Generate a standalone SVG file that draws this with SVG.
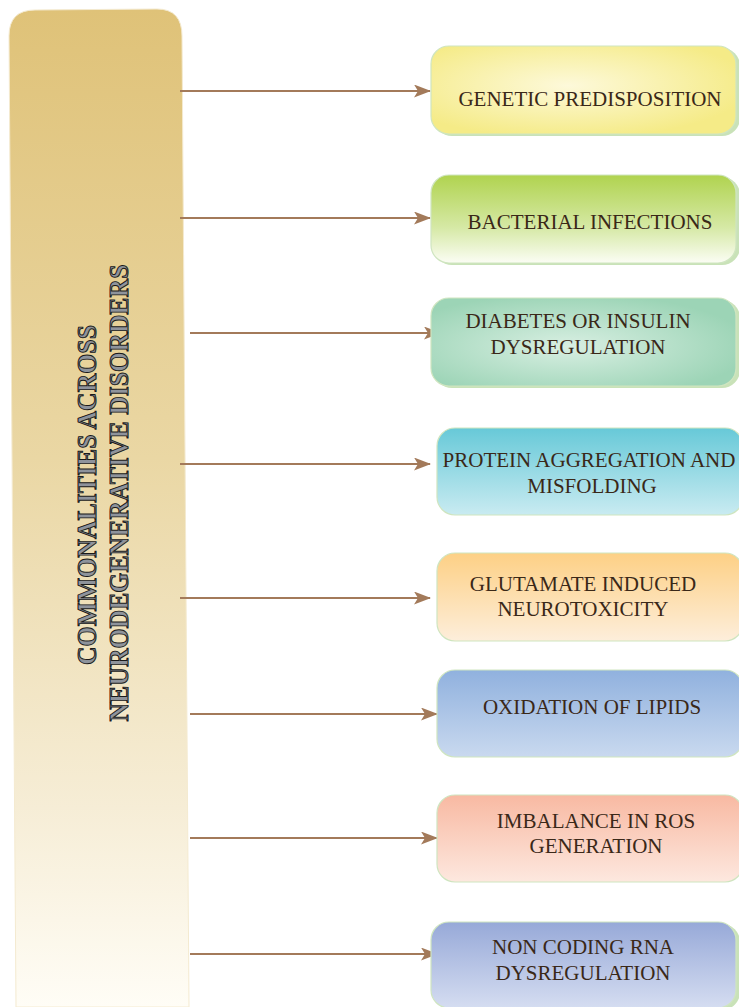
<svg xmlns="http://www.w3.org/2000/svg" width="739" height="1007" viewBox="0 0 739 1007">
  <defs>
    <linearGradient id="barGrad" x1="0" y1="0" x2="0" y2="1">
      <stop offset="0" stop-color="#dfc278"/>
      <stop offset="0.45" stop-color="#ead7a4"/>
      <stop offset="0.8" stop-color="#f6edd6"/>
      <stop offset="1" stop-color="#fffdf6"/>
    </linearGradient>
    <radialGradient id="gYellow" cx="0.45" cy="0.45" r="0.6">
      <stop offset="0" stop-color="#fdf9da"/>
      <stop offset="1" stop-color="#f5eb87"/>
    </radialGradient>
    <linearGradient id="gGreen" x1="0" y1="0" x2="0" y2="1">
      <stop offset="0" stop-color="#b0d34f"/>
      <stop offset="0.6" stop-color="#d6e9a6"/>
      <stop offset="1" stop-color="#fbfdf4"/>
    </linearGradient>
    <radialGradient id="gTeal" cx="0.45" cy="0.55" r="0.6">
      <stop offset="0" stop-color="#d8efe2"/>
      <stop offset="1" stop-color="#9cd4b6"/>
    </radialGradient>
    <linearGradient id="gCyan" x1="0" y1="0" x2="0" y2="1">
      <stop offset="0" stop-color="#67c9d8"/>
      <stop offset="1" stop-color="#c9ebf1"/>
    </linearGradient>
    <linearGradient id="gOrange" x1="0" y1="0" x2="0" y2="1">
      <stop offset="0" stop-color="#fdd085"/>
      <stop offset="1" stop-color="#fdeedb"/>
    </linearGradient>
    <linearGradient id="gBlue" x1="0" y1="0" x2="0" y2="1">
      <stop offset="0" stop-color="#90b1de"/>
      <stop offset="1" stop-color="#c9d9ef"/>
    </linearGradient>
    <linearGradient id="gSalmon" x1="0" y1="0" x2="0" y2="1">
      <stop offset="0" stop-color="#f8b9a2"/>
      <stop offset="1" stop-color="#fde8df"/>
    </linearGradient>
    <linearGradient id="gPurple" x1="0" y1="0" x2="0" y2="1">
      <stop offset="0" stop-color="#97a9d8"/>
      <stop offset="1" stop-color="#d5ddf1"/>
    </linearGradient>
    <!-- barbed arrowhead -->
    <marker id="arrow" viewBox="0 0 17 13" refX="16" refY="6.5" markerWidth="17" markerHeight="13" markerUnits="userSpaceOnUse" orient="auto">
      <path d="M0,0 L17,6.5 L0,13 L4,6.5 Z" fill="#a37a5a"/>
    </marker>
  </defs>
  <style>
    .box { stroke: #cfe5c0; stroke-width: 1.2; }
    .shadow { fill: #c9e2b8; }
    .lbl { font-family: "Liberation Serif", "Times New Roman", serif; font-size: 21px; fill: #3a2818; text-anchor: middle; }
    .title { font-family: "Liberation Serif", "Times New Roman", serif; font-size: 28px; font-weight: bold; fill: #8e939b; stroke: #1a1a1a; stroke-width: 1; text-anchor: middle; }
    .conn { stroke: #a37a5a; stroke-width: 2; fill: none; marker-end: url(#arrow); }
  </style>

  <rect width="739" height="1007" fill="#ffffff"/>

  <!-- left banner -->
  <g id="banner">
    <path d="M9,36 Q9,10 35,10 L157,9 Q182,9 182,36 L189,1007 L16,1007 Z" fill="url(#barGrad)" stroke="#f4ead0" stroke-width="1"/>
    <text class="title" transform="translate(96,495) rotate(-90)" textLength="340" lengthAdjust="spacingAndGlyphs">COMMONALITIES ACROSS</text>
    <text class="title" transform="translate(128,493) rotate(-90)" textLength="457" lengthAdjust="spacingAndGlyphs">NEURODEGENERATIVE DISORDERS</text>
  </g>

  <!-- connectors -->
  <g id="connectors">
    <line class="conn" x1="180" y1="91" x2="430" y2="91"/>
    <line class="conn" x1="180" y1="218" x2="430" y2="218"/>
    <line class="conn" x1="190" y1="333" x2="440" y2="333"/>
    <line class="conn" x1="180" y1="464" x2="430" y2="464"/>
    <line class="conn" x1="180" y1="598" x2="430" y2="598"/>
    <line class="conn" x1="190" y1="714" x2="437" y2="714"/>
    <line class="conn" x1="190" y1="838" x2="437" y2="838"/>
    <line class="conn" x1="190" y1="954" x2="437" y2="954"/>
  </g>

  <g id="genetic">
    <rect class="shadow" x="434" y="48" width="306" height="88" rx="18"/>
    <rect class="box" x="431" y="46" width="305" height="88" rx="18" fill="url(#gYellow)"/>
    <text class="lbl" x="590" y="106">GENETIC PREDISPOSITION</text>
  </g>

  <g id="bacterial">
    <rect class="shadow" x="434" y="177" width="306" height="88" rx="18"/>
    <rect class="box" x="431" y="175" width="305" height="88" rx="18" fill="url(#gGreen)"/>
    <text class="lbl" x="590" y="229">BACTERIAL INFECTIONS</text>
  </g>

  <g id="diabetes">
    <rect class="shadow" x="434" y="300" width="306" height="88" rx="18" fill="#b8d86a"/>
    <rect class="box" x="431" y="298" width="305" height="88" rx="18" fill="url(#gTeal)"/>
    <text class="lbl" x="578" y="328">DIABETES OR INSULIN</text>
    <text class="lbl" x="578" y="354">DYSREGULATION</text>
  </g>

  <g id="protein">
    <rect class="box" x="437" y="428" width="306" height="87" rx="18" fill="url(#gCyan)"/>
    <text class="lbl" x="589" y="467">PROTEIN AGGREGATION AND</text>
    <text class="lbl" x="592" y="493">MISFOLDING</text>
  </g>

  <g id="glutamate">
    <rect class="box" x="437" y="553" width="306" height="88" rx="18" fill="url(#gOrange)"/>
    <text class="lbl" x="583" y="591">GLUTAMATE INDUCED</text>
    <text class="lbl" x="583" y="616">NEUROTOXICITY</text>
  </g>

  <g id="oxidation">
    <rect class="box" x="437" y="670" width="306" height="87" rx="18" fill="url(#gBlue)"/>
    <text class="lbl" x="592" y="714">OXIDATION OF LIPIDS</text>
  </g>

  <g id="ros">
    <rect class="box" x="437" y="795" width="306" height="87" rx="18" fill="url(#gSalmon)"/>
    <text class="lbl" x="596" y="828">IMBALANCE IN ROS</text>
    <text class="lbl" x="596" y="853">GENERATION</text>
  </g>

  <g id="ncrna">
    <rect class="shadow" x="434" y="924" width="306" height="86" rx="18" fill="#b8d86a"/>
    <rect class="box" x="431" y="922" width="305" height="86" rx="18" fill="url(#gPurple)"/>
    <text class="lbl" x="583" y="954">NON CODING RNA</text>
    <text class="lbl" x="583" y="980">DYSREGULATION</text>
  </g>
</svg>
